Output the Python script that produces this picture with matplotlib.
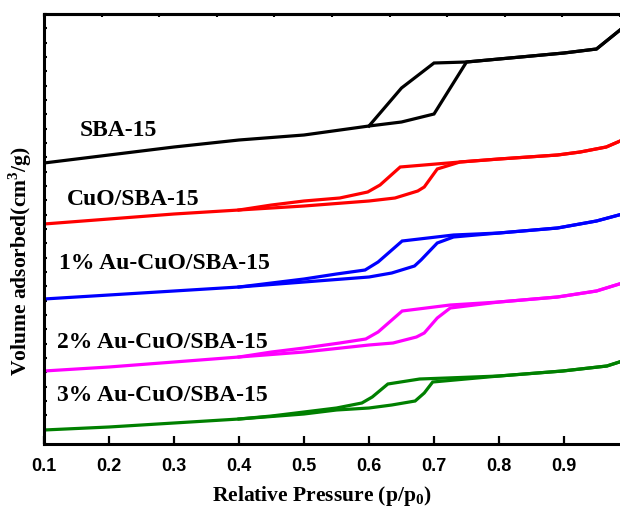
import numpy as np
import matplotlib
matplotlib.use("Agg")
import matplotlib.pyplot as plt

plt.rcParams["mathtext.fontset"] = "custom"
plt.rcParams["mathtext.rm"] = "Liberation Serif:bold"
plt.rcParams["mathtext.bf"] = "Liberation Serif:bold"

# N2 adsorption-desorption isotherms (curves offset vertically, arbitrary units)
samples = ["SBA-15", "CuO/SBA-15", "1% Au-CuO/SBA-15", "2% Au-CuO/SBA-15", "3% Au-CuO/SBA-15"]
colors = ["#000000", "#ff0000", "#0000ff", "#ff00ff", "#008000"]

sba_ads_x = [0.10, 0.20, 0.30, 0.40, 0.50, 0.60, 0.65, 0.70, 0.75, 0.80, 0.85, 0.90, 0.95, 0.99]
sba_ads_y = [281, 289, 297, 304, 309, 318, 322, 330, 382, 385, 388, 391, 395, 416]
sba_des_x = [0.99, 0.95, 0.90, 0.85, 0.80, 0.75, 0.70, 0.65, 0.60]
sba_des_y = [416, 395, 391, 388, 385, 382, 381, 356, 318]

cuo_ads_x = [0.10, 0.20, 0.30, 0.40, 0.50, 0.60, 0.64, 0.675, 0.685, 0.705, 0.74, 0.80, 0.89, 0.925, 0.965, 0.99]
cuo_ads_y = [220, 225, 230, 234, 238, 243, 246, 253, 257, 275, 282, 285, 289, 292, 297, 304]
cuo_des_x = [0.99, 0.965, 0.925, 0.89, 0.80, 0.74, 0.648, 0.617, 0.598, 0.555, 0.50, 0.45, 0.40]
cuo_des_y = [304, 297, 292, 289, 285, 282, 277, 259, 252, 246, 243, 239, 234]

au1_ads_x = [0.10, 0.20, 0.30, 0.40, 0.50, 0.60, 0.635, 0.67, 0.68, 0.705, 0.73, 0.80, 0.89, 0.95, 0.99]
au1_ads_y = [145, 149, 153, 157, 162, 167, 171, 178, 184, 201, 207, 211, 216, 223, 230]
au1_des_x = [0.99, 0.95, 0.89, 0.80, 0.73, 0.651, 0.614, 0.594, 0.55, 0.50, 0.45, 0.40]
au1_des_y = [230, 223, 216, 211, 209, 203, 182, 174, 170, 165, 161, 157]

au2_ads_x = [0.10, 0.20, 0.30, 0.40, 0.50, 0.60, 0.637, 0.673, 0.685, 0.705, 0.725, 0.80, 0.89, 0.95, 0.99]
au2_ads_y = [73, 77, 82, 87, 92, 99, 101, 107, 111, 126, 136, 142, 147, 153, 161]
au2_des_x = [0.99, 0.95, 0.89, 0.80, 0.725, 0.651, 0.614, 0.595, 0.555, 0.50, 0.45, 0.40]
au2_des_y = [161, 153, 147, 142, 139, 133, 112, 105, 101, 96, 92, 87]

au3_ads_x = [0.10, 0.20, 0.30, 0.40, 0.50, 0.55, 0.60, 0.635, 0.671, 0.685, 0.698, 0.80, 0.898, 0.966, 0.99]
au3_ads_y = [14, 17, 21, 25, 30, 34, 36, 39, 43, 51, 62, 68, 73, 78, 83]
au3_des_x = [0.99, 0.966, 0.898, 0.80, 0.72, 0.678, 0.629, 0.605, 0.589, 0.55, 0.50, 0.45, 0.40]
au3_des_y = [83, 78, 73, 68, 66, 65, 60, 47, 41, 36, 32, 28, 25]

curves = [
    (sba_ads_x, sba_ads_y, sba_des_x, sba_des_y),
    (cuo_ads_x, cuo_ads_y, cuo_des_x, cuo_des_y),
    (au1_ads_x, au1_ads_y, au1_des_x, au1_des_y),
    (au2_ads_x, au2_ads_y, au2_des_x, au2_des_y),
    (au3_ads_x, au3_ads_y, au3_des_x, au3_des_y),
]
label_x = [0.155, 0.135, 0.123, 0.120, 0.120]
label_y = [314, 245, 181, 102, 49]

x_ticks = [0.1, 0.2, 0.3, 0.4, 0.5, 0.6, 0.7, 0.8, 0.9]

fig = plt.figure(figsize=(6.2, 5.11), dpi=100)
ax = fig.add_axes([44 / 620, 67 / 511, 576 / 620, 430 / 511])

for (ax_x, ax_y, dx, dy), c in zip(curves, colors):
    ax.plot(ax_x, ax_y, color=c, lw=2.3, solid_joinstyle="miter")
    ax.plot(dx, dy, color=c, lw=2.3, solid_joinstyle="miter")

for name, lx, ly in zip(samples, label_x, label_y):
    ax.text(lx, ly, name, family="Liberation Serif", fontweight="bold",
            fontsize=17, va="center", ha="left")

ax.set_xlim(0.1, 0.1 + 576 / 650)
ax.set_ylim(0, 430)
ax.set_xticks(x_ticks)
ax.set_xticklabels([f"{v:.1f}" for v in x_ticks], family="Liberation Sans",
                   fontweight="bold", fontsize=13)
ax.set_yticks(np.linspace(0, 430, 31))
ax.set_yticklabels([])
ax.tick_params(axis="x", direction="in", length=6, width=1.6, pad=10, top=False)
ax.tick_params(axis="y", direction="in", length=2.5, width=1.5, right=False)

for side in ["left", "bottom", "top"]:
    ax.spines[side].set_linewidth(2.2)
ax.spines["right"].set_visible(False)

top = ax.secondary_xaxis("top", functions=(lambda v: (v - 0.1) * 650 / 576,
                                           lambda f: 0.1 + f * 576 / 650))
top.set_xticks(np.arange(0, 1.01, 0.1))
top.set_xticklabels([])
top.tick_params(direction="in", length=2.5, width=1.5)
top.spines["top"].set_linewidth(2.2)

ax.set_xlabel("Relative Pressure (p/p$_0$)", family="Liberation Serif",
              fontweight="bold", fontsize=15.5)
ax.xaxis.set_label_coords(0.483, -0.093)
ax.set_ylabel("Volume adsorbed(cm$^3$/g)", family="Liberation Serif",
              fontweight="bold", fontsize=15.5)
ax.yaxis.set_label_coords(-0.017, 0.426)

fig.savefig("out.png", dpi=100)
